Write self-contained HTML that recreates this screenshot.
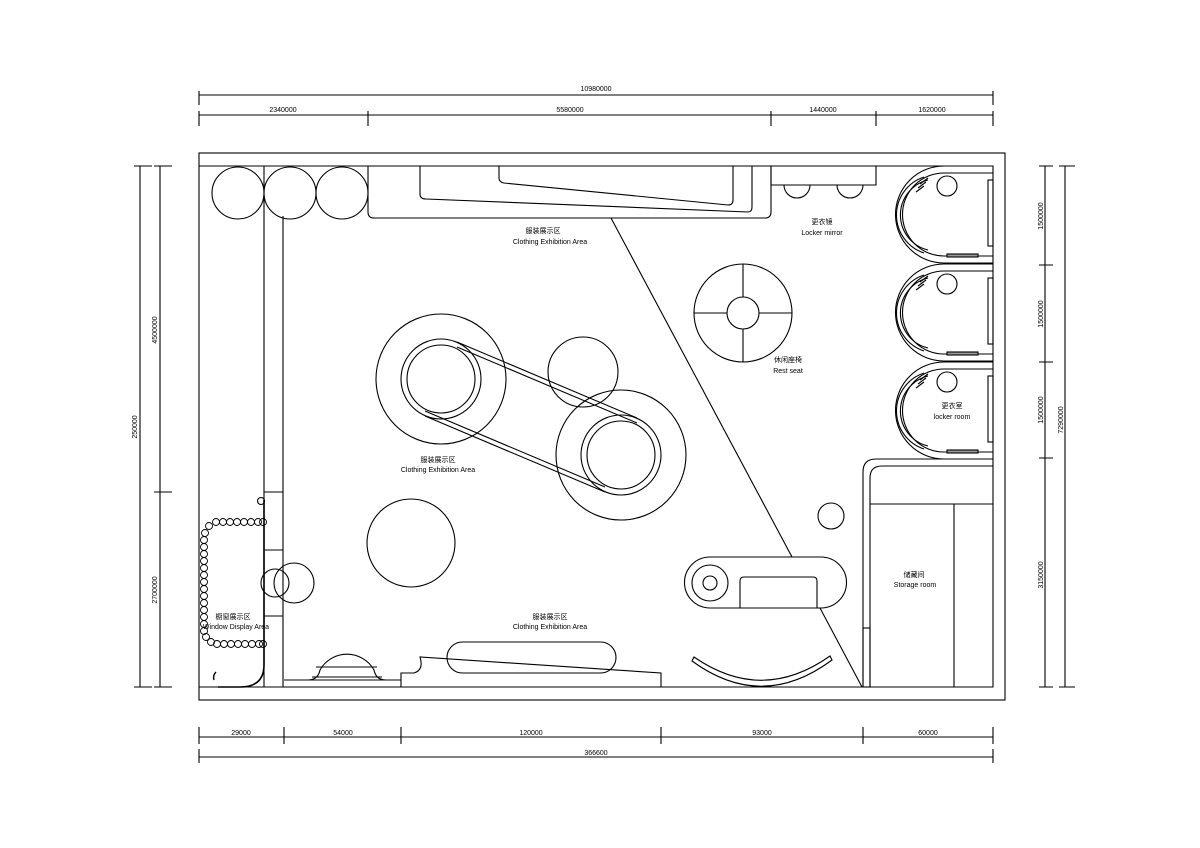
<!DOCTYPE html>
<html><head><meta charset="utf-8"><style>
html,body{margin:0;padding:0;background:#fff}
svg{display:block}
text{font-family:"Liberation Sans","Noto Sans CJK SC",sans-serif;fill:#000}
.t{font-size:7px}
.c{font-size:7px;font-family:"Noto Sans CJK SC",sans-serif}
</style></head><body>
<svg width="1200" height="848" viewBox="0 0 1200 848" xmlns="http://www.w3.org/2000/svg">
<defs>
<g id="locker" fill="none" stroke="#000" stroke-width="1.1">
<path d="M993 166 H944 A48.5 48.5 0 0 0 944 263 H993"/>
<path d="M993 173 H944 A41.5 41.5 0 0 0 944 256 H993"/>
<path d="M928 180 A36 36 0 0 0 928 250"/>
<path d="M924 177 A40 40 0 0 0 924 253"/>
<path d="M920 184 l8 -6 M918 188 l8 -6 M916 192 l8 -6"/>
<circle cx="947" cy="186" r="10"/>
<rect x="988" y="180" width="5" height="66"/>
<rect x="947" y="254" width="31" height="3" fill="#999"/>
</g>
</defs>
<g fill="none" stroke="#000" stroke-width="1.1">
<!-- top dims -->
<path d="M199 95 H993 M199 91 V105 M993 91 V105"/>
<path d="M199 115 H993 M199 111 V126 M368 111 V126 M771 111 V126 M876 111 V126 M993 111 V126"/>
<!-- bottom dims -->
<path d="M199 737 H993 M199 727 V744 M284 727 V744 M401 727 V744 M661 727 V744 M863 727 V744 M993 727 V744"/>
<path d="M199 757 H993 M199 749 V763 M993 749 V763"/>
<!-- left dims -->
<path d="M140 166 V687 M134 166 H152 M134 687 H152"/>
<path d="M160 166 V687 M154 166 H172 M154 492 H172 M154 687 H172"/>
<!-- right dims -->
<path d="M1045 166 V687 M1039 166 H1053 M1039 265 H1053 M1039 362 H1053 M1039 458 H1053 M1039 687 H1053"/>
<path d="M1065 166 V687 M1059 166 H1075 M1059 687 H1075"/>
<!-- outer frame -->
<rect x="199" y="153" width="806" height="547"/>
<path d="M199 166 H993 V687 H199"/>
<!-- left column -->
<path d="M264 166 V687 M283 216 V687 M264 492 H283 M264 550 H283 M264 616 H283"/>
<circle cx="238" cy="193" r="26"/><circle cx="290" cy="193" r="26"/><circle cx="342" cy="193" r="26"/>
<!-- top counter -->
<path d="M368 166 V212 Q368 218 374 218 H765 Q771 218 771 212 V166"/>
<path d="M420 166 V194 Q420 199 426 199 L748 212 Q752 212 752 207 V166"/>
<path d="M499 166 V178 Q499 182 504 183 L728 205 Q733 205 733 200 V166"/>
<!-- mirror -->
<path d="M771 166 V185 H876 V166"/>
<path d="M784 185 A13 13 0 0 0 810 185 M837 185 A13 13 0 0 0 863 185"/>
<!-- diagonal -->
<path d="M611 218 L792 557 M820 608 L862 687"/>
<!-- rest seat -->
<circle cx="743" cy="313" r="49"/><circle cx="743" cy="313" r="16"/>
<path d="M743 264 V297 M743 329 V362 M694 313 H727 M759 313 H792"/>
<!-- center display -->
<circle cx="441" cy="379" r="65"/><circle cx="441" cy="379" r="40"/><circle cx="441" cy="379" r="34"/>
<circle cx="621" cy="455" r="65"/><circle cx="621" cy="455" r="40"/><circle cx="621" cy="455" r="34"/>
<circle cx="583" cy="372" r="35"/>
<path d="M457 342 L637 418 M425 416 L605 492"/>
<path d="M457 347 L637 423 M425 411 L605 487"/>
<circle cx="411" cy="543" r="44"/>
<circle cx="275" cy="583" r="14"/><circle cx="294" cy="583" r="20"/>
<!-- window display -->
<path d="M264 500 V665 Q264 687 240 687 H218" stroke-width="1.6"/>
<path d="M214 680 A8 8 0 0 1 216 672" stroke-width="1.4"/>
<circle cx="261" cy="501" r="3.5"/>
<g stroke-width="0.9">
<circle cx="216" cy="522" r="3.5"/><circle cx="223" cy="522" r="3.5"/><circle cx="230" cy="522" r="3.5"/><circle cx="237" cy="522" r="3.5"/><circle cx="244" cy="522" r="3.5"/><circle cx="251" cy="522" r="3.5"/><circle cx="258" cy="522" r="3.5"/><circle cx="263" cy="522" r="3.5"/>
<circle cx="209" cy="526" r="3.5"/><circle cx="205" cy="533" r="3.5"/>
<circle cx="204" cy="540" r="3.5"/><circle cx="204" cy="547" r="3.5"/><circle cx="204" cy="554" r="3.5"/><circle cx="204" cy="561" r="3.5"/><circle cx="204" cy="568" r="3.5"/><circle cx="204" cy="575" r="3.5"/><circle cx="204" cy="582" r="3.5"/><circle cx="204" cy="589" r="3.5"/><circle cx="204" cy="596" r="3.5"/><circle cx="204" cy="603" r="3.5"/><circle cx="204" cy="610" r="3.5"/><circle cx="204" cy="617" r="3.5"/><circle cx="204" cy="624" r="3.5"/><circle cx="204" cy="631" r="3.5"/>
<circle cx="206" cy="637" r="3.5"/><circle cx="211" cy="642" r="3.5"/>
<circle cx="217" cy="644" r="3.5"/><circle cx="224" cy="644" r="3.5"/><circle cx="231" cy="644" r="3.5"/><circle cx="238" cy="644" r="3.5"/><circle cx="245" cy="644" r="3.5"/><circle cx="252" cy="644" r="3.5"/><circle cx="259" cy="644" r="3.5"/><circle cx="263" cy="644" r="3.5"/>
</g>
<!-- bottom elements -->
<path d="M284 680 H401"/>
<path d="M308 680 Q318 680 320 670 A31 31 0 0 1 374 670 Q376 680 386 680"/>
<path d="M312 677 H382 M316 667 H377"/>
<path d="M401 687 V673 H414 Q424 670 420 657 L661 673 V687"/>
<rect x="447" y="642" width="169" height="31" rx="15.5"/>
<!-- bench -->
<path d="M710 557 H821 A25.5 25.5 0 0 1 821 608 H710 A25.5 25.5 0 0 1 710 557 Z"/>
<circle cx="710" cy="583" r="18"/><circle cx="710" cy="583" r="7"/>
<path d="M740 608 V581 Q740 577 744 577 H813 Q817 577 817 581 V608"/>
<circle cx="831" cy="516" r="13"/>
<path d="M692 661 Q762 712 832 660 L830 656 Q762 704 694 657 Z"/>
<!-- storage -->
<path d="M863 687 V472 Q863 459 876 459 H993"/>
<path d="M870 687 V478 Q870 466 882 466 H993"/>
<path d="M870 504 H993 M954 504 V687"/>
<rect x="863" y="628" width="7" height="59"/>
</g>
<use href="#locker"/>
<use href="#locker" transform="translate(0,98)"/>
<use href="#locker" transform="translate(0,196)"/>
<!-- labels -->
<text class="t" x="596" y="91" text-anchor="middle">10980000</text>
<text class="t" x="283" y="112" text-anchor="middle">2340000</text>
<text class="t" x="570" y="112" text-anchor="middle">5580000</text>
<text class="t" x="823" y="112" text-anchor="middle">1440000</text>
<text class="t" x="932" y="112" text-anchor="middle">1620000</text>
<text class="t" x="241" y="735" text-anchor="middle">29000</text>
<text class="t" x="343" y="735" text-anchor="middle">54000</text>
<text class="t" x="531" y="735" text-anchor="middle">120000</text>
<text class="t" x="762" y="735" text-anchor="middle">93000</text>
<text class="t" x="928" y="735" text-anchor="middle">60000</text>
<text class="t" x="596" y="755" text-anchor="middle">366600</text>
<text class="t" transform="translate(137,427) rotate(-90)" text-anchor="middle">250000</text>
<text class="t" transform="translate(157,330) rotate(-90)" text-anchor="middle">4500000</text>
<text class="t" transform="translate(157,590) rotate(-90)" text-anchor="middle">2700000</text>
<text class="t" transform="translate(1043,216) rotate(-90)" text-anchor="middle">1500000</text>
<text class="t" transform="translate(1043,314) rotate(-90)" text-anchor="middle">1500000</text>
<text class="t" transform="translate(1043,410) rotate(-90)" text-anchor="middle">1500000</text>
<text class="t" transform="translate(1043,575) rotate(-90)" text-anchor="middle">3150000</text>
<text class="t" transform="translate(1063,420) rotate(-90)" text-anchor="middle">7290000</text>
<text class="c" x="543" y="233" text-anchor="middle">服装展示区</text>
<text class="t" x="550" y="244" text-anchor="middle">Clothing Exhibition Area</text>
<text class="c" x="438" y="462" text-anchor="middle">服装展示区</text>
<text class="t" x="438" y="472" text-anchor="middle">Clothing Exhibition Area</text>
<text class="c" x="550" y="619" text-anchor="middle">服装展示区</text>
<text class="t" x="550" y="629" text-anchor="middle">Clothing Exhibition Area</text>
<text class="c" x="233" y="619" text-anchor="middle">橱窗展示区</text>
<text class="t" x="236" y="629" text-anchor="middle">Window Display Area</text>
<text class="c" x="822" y="224" text-anchor="middle">更衣镜</text>
<text class="t" x="822" y="235" text-anchor="middle">Locker mirror</text>
<text class="c" x="788" y="362" text-anchor="middle">休闲座椅</text>
<text class="t" x="788" y="373" text-anchor="middle">Rest seat</text>
<text class="c" x="952" y="408" text-anchor="middle">更衣室</text>
<text class="t" x="952" y="419" text-anchor="middle">locker room</text>
<text class="c" x="914" y="577" text-anchor="middle">储藏间</text>
<text class="t" x="915" y="587" text-anchor="middle">Storage room</text>
</svg>
</body></html>
